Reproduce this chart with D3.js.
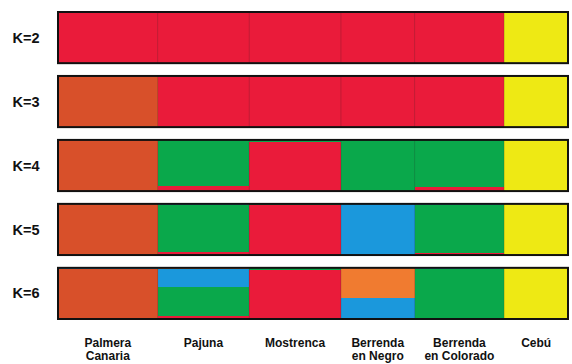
<!DOCTYPE html>
<html>
<head>
<meta charset="utf-8">
<script src="https://cdn.jsdelivr.net/npm/d3@7"></script>
<style>
  html, body { margin: 0; padding: 0; background: #fff; }
  svg { display: block; }
  text { font-family: "Liberation Sans", Arial, Helvetica, sans-serif; fill: #111; }
</style>
</head>
<body>
<svg id="chart" width="572" height="364"></svg>
<script>
// Row labels (number of assumed clusters)
const kLabels = ["K=2", "K=3", "K=4", "K=5", "K=6"];

// Breeds, their label lines, and sample sizes (bar width per breed)
const populations = ["Palmera Canaria", "Pajuna", "Mostrenca", "Berrenda en Negro", "Berrenda en Colorado", "Cebú"];
const populationLines = [["Palmera", "Canaria"], ["Pajuna"], ["Mostrenca"], ["Berrenda", "en Negro"], ["Berrenda", "en Colorado"], ["Cebú"]];
const individuals = [50, 46, 46, 37, 45, 32];

// Ancestral clusters, stacked bottom to top in this order
const clusterNames = ["red", "yellow", "brown", "green", "blue", "orange"];
const clusterColors = ["#ea1b3a", "#eee914", "#d8502a", "#0aa84b", "#1b98dc", "#f07b30"];

// Mean membership per breed (rows) in each cluster (columns: red, yellow, brown, green, blue, orange)
const admixK2 = [
  [1, 0, 0, 0, 0, 0],
  [1, 0, 0, 0, 0, 0],
  [1, 0, 0, 0, 0, 0],
  [1, 0, 0, 0, 0, 0],
  [1, 0, 0, 0, 0, 0],
  [0, 1, 0, 0, 0, 0]
];
const admixK3 = [
  [0, 0, 1, 0, 0, 0],
  [1, 0, 0, 0, 0, 0],
  [1, 0, 0, 0, 0, 0],
  [1, 0, 0, 0, 0, 0],
  [1, 0, 0, 0, 0, 0],
  [0, 1, 0, 0, 0, 0]
];
const admixK4 = [
  [0, 0, 1, 0, 0, 0],
  [0.09, 0, 0, 0.91, 0, 0],
  [0.96, 0, 0, 0.04, 0, 0],
  [0, 0, 0, 1, 0, 0],
  [0.08, 0, 0, 0.92, 0, 0],
  [0, 1, 0, 0, 0, 0]
];
const admixK5 = [
  [0, 0, 1, 0, 0, 0],
  [0.06, 0, 0, 0.91, 0.03, 0],
  [0.97, 0, 0, 0.03, 0, 0],
  [0, 0, 0, 0, 1, 0],
  [0.04, 0, 0, 0.94, 0.02, 0],
  [0, 1, 0, 0, 0, 0]
];
const admixK6 = [
  [0, 0, 0.98, 0, 0.02, 0],
  [0.05, 0, 0, 0.58, 0.34, 0.03],
  [0.96, 0, 0, 0.04, 0, 0],
  [0, 0, 0, 0, 0.42, 0.58],
  [0, 0, 0, 0.97, 0.03, 0],
  [0, 1, 0, 0, 0, 0]
];
const admixByK = [admixK2, admixK3, admixK4, admixK5, admixK6];

const svg = d3.select("#chart");

// Horizontal scale: cumulative individuals across breeds
const total = d3.sum(individuals);
const starts = d3.cumsum([0].concat(individuals)).slice(0, individuals.length);
const x = d3.scaleLinear().domain([0, total]).range([58, 568]);

// Vertical bands, one per K
const yBand = d3.scaleBand().domain(kLabels).range([12, 319]).paddingInner(0.2).paddingOuter(0);

kLabels.forEach((k, ki) => {
  const top = yBand(k);
  const h = yBand.bandwidth();
  const y = d3.scaleLinear().domain([0, 1]).range([top + h, top]);
  const g = svg.append("g").attr("class", "row");

  // Stack membership of each breed
  const segs = [];
  admixByK[ki].forEach((row, pi) => {
    let acc = 0;
    row.forEach((v, ci) => {
      if (v > 0) {
        segs.push({ pi, ci, y0: acc, y1: acc + v });
        acc += v;
      }
    });
  });

  g.selectAll("rect.seg")
    .data(segs)
    .join("rect")
    .attr("class", "seg")
    .attr("x", d => x(starts[d.pi]))
    .attr("width", d => x(starts[d.pi] + individuals[d.pi]) - x(starts[d.pi]))
    .attr("y", d => y(d.y1))
    .attr("height", d => y(d.y0) - y(d.y1))
    .attr("fill", d => clusterColors[d.ci])
    .attr("shape-rendering", "crispEdges");

  // Faint separators between breeds
  g.selectAll("line.sep")
    .data(starts.slice(1))
    .join("line")
    .attr("class", "sep")
    .attr("x1", d => x(d)).attr("x2", d => x(d))
    .attr("y1", top).attr("y2", top + h)
    .attr("stroke", "#222")
    .attr("stroke-opacity", 0.2)
    .attr("stroke-width", 1);

  // Outline of the row
  g.append("rect")
    .attr("x", x(0))
    .attr("y", top)
    .attr("width", x(total) - x(0))
    .attr("height", h)
    .attr("fill", "none")
    .attr("stroke", "#111")
    .attr("stroke-width", 2);

  // K label
  svg.append("text")
    .attr("x", 26)
    .attr("y", top + h / 2)
    .attr("dy", "0.35em")
    .attr("text-anchor", "middle")
    .attr("font-size", 14.5)
    .attr("font-weight", "bold")
    .text(k);
});

// Breed names under the bars
const labels = svg.append("g").selectAll("text")
  .data(populations)
  .join("text")
  .attr("x", (d, i) => x(starts[i] + individuals[i] / 2))
  .attr("y", 347)
  .attr("text-anchor", "middle")
  .attr("font-size", 12)
  .attr("font-weight", "bold");

labels.selectAll("tspan")
  .data((d, i) => populationLines[i])
  .join("tspan")
  .attr("x", function () { return this.parentNode.getAttribute("x"); })
  .attr("dy", (d, j) => j === 0 ? 0 : 12.5)
  .text(d => d);
</script>
</body>
</html>
